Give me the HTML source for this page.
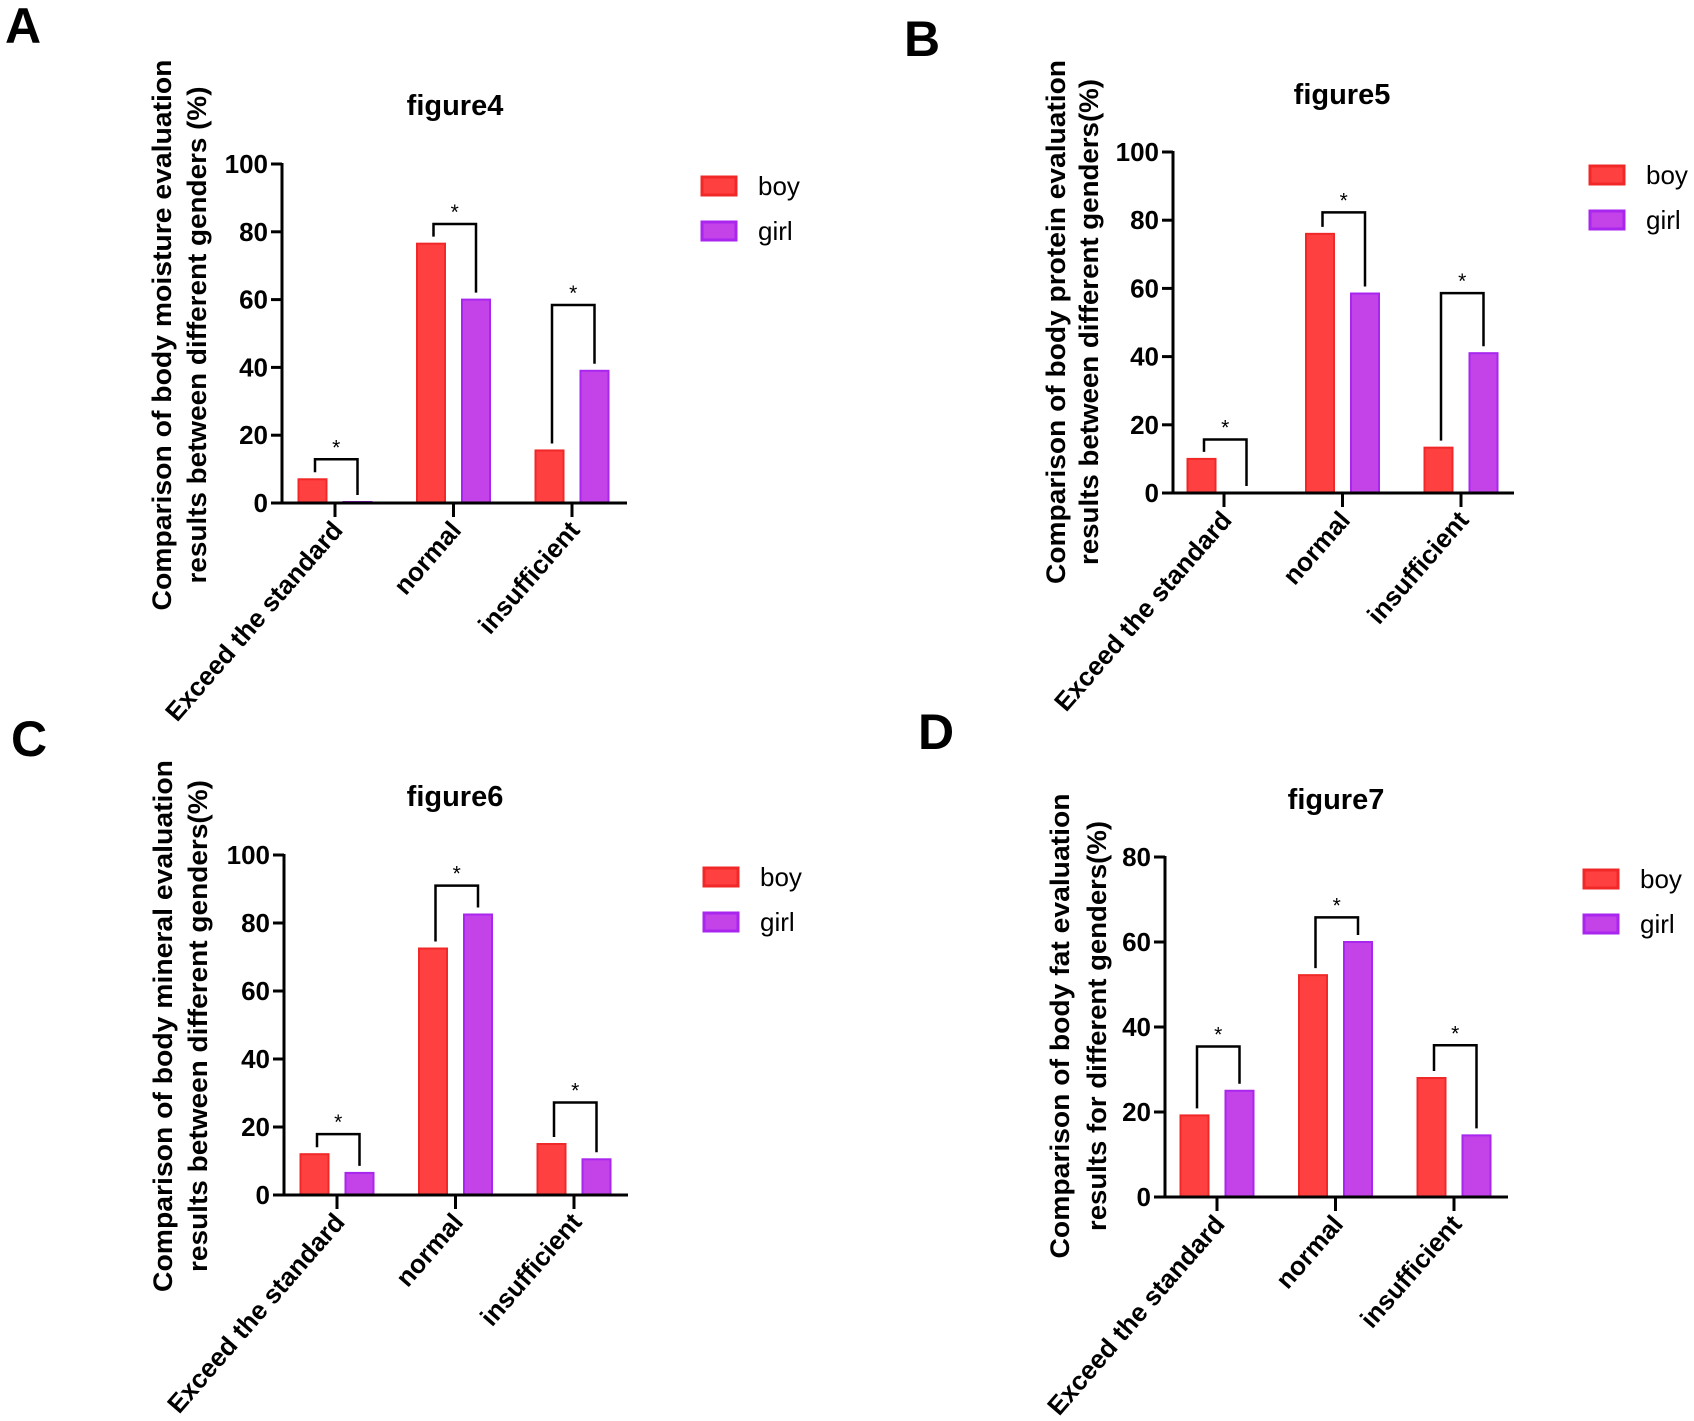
<!DOCTYPE html>
<html><head><meta charset="utf-8"><style>
html,body{margin:0;padding:0;background:#fff;overflow:hidden;}
svg{display:block;font-family:"Liberation Sans",Arial,sans-serif;}
</style></head><body>
<svg id="fig" width="1694" height="1421" viewBox="0 0 1694 1421" xmlns="http://www.w3.org/2000/svg"></svg>
<script>
const categories = ["Exceed the standard","normal","insufficient"];
const seriesNames = ["boy","girl"];
const aBoy = [7, 76.5, 15.5];
const aGirl = [0.3, 60, 39];
const aBracket = [12.9, 82.3, 58.4];
const bBoy = [10, 76, 13.3];
const bGirl = [0, 58.5, 41];
const bBracket = [15.7, 82.3, 58.6];
const cBoy = [12, 72.5, 15];
const cGirl = [6.5, 82.5, 10.5];
const cBracket = [17.9, 91, 27.2];
const dBoy = [19.2, 52.2, 28];
const dGirl = [25, 60, 14.5];
const dBracket = [35.4, 65.8, 35.7];
const ticks100 = [0, 20, 40, 60, 80, 100];
const ticks80 = [0, 20, 40, 60, 80];

const NS = "http://www.w3.org/2000/svg";
const svg = document.getElementById('fig');
function mk(tag, attrs, parent, text){
  const e = document.createElementNS(NS, tag);
  for (const k in attrs) e.setAttribute(k, attrs[k]);
  if (text !== undefined) e.textContent = text;
  (parent || svg).appendChild(e);
  return e;
}
const BOY_FILL="#ff4040", BOY_STROKE="#f02828", GIRL_FILL="#c443e8", GIRL_STROKE="#a826ee";

function panel(p){
  const g = mk('g', {});
  
  
  const maxV = p.ticks[p.ticks.length-1];
  const y = v => p.y0 - (v / maxV) * (p.y0 - p.ytop);
  const xc = i => p.tick0 + i * 118.5;

  const lab = mk('text', {x:p.lx, y:p.ly, 'font-size':50, 'font-weight':'bold', fill:'#000', 'dominant-baseline':'central'}, g, p.letter);
  
  

  const t = mk('text', {x:p.tx, y:p.ty, 'font-size':29, 'font-weight':'bold', 'text-anchor':'middle', 'dominant-baseline':'central'}, g, p.title);
  
  

  const yt = mk('g', {transform:'translate(' + p.ytx + ',' + p.ytc + ') rotate(-90)'}, g);
  
  
  mk('text', {x:0, y:0, 'font-size':27, 'font-weight':'bold', 'text-anchor':'middle', 'dominant-baseline':'central', textLength:p.yl1, lengthAdjust:'spacingAndGlyphs'}, yt, p.ytitle[0]);
  mk('text', {x:0, y:p.ytgap, 'font-size':27, 'font-weight':'bold', 'text-anchor':'middle', 'dominant-baseline':'central', textLength:p.yl2, lengthAdjust:'spacingAndGlyphs'}, yt, p.ytitle[1]);

  for (let i = 0; i < categories.length; i++){
    const vals = [p.boy[i], p.girl[i]];
    for (let s = 0; s < 2; s++){
      const cx = xc(i) + (s === 0 ? -22.5 : 22.5);
      const top = y(vals[s]);
      const r = mk('rect', {x:cx-14, y:top, width:28, height:Math.max(0.5, p.y0-top), fill:s?GIRL_FILL:BOY_FILL, stroke:s?GIRL_STROKE:BOY_STROKE, 'stroke-width':2}, g);
      
      
    }
    const bx1 = xc(i) - 20, bx2 = xc(i) + 22.5;
    const bt = y(p.bracket[i]);
    const lb = y(p.boy[i]) - 7, rb = y(p.girl[i]) - 7;
    const br = mk('path', {d:'M' + bx1 + ' ' + lb + ' V' + bt + ' H' + bx2 + ' V' + rb, fill:'none', stroke:'#000', 'stroke-width':2.5}, g);
    
    
    const st = mk('text', {x:(bx1+bx2)/2, y:bt - 5, 'font-size':21, 'text-anchor':'middle'}, g, '*');
    
    
  }

  const ax = mk('path', {d:'M' + p.ax + ' ' + (p.ytop-1) + ' V' + p.y0 + ' H' + p.xend, fill:'none', stroke:'#000', 'stroke-width':3}, g);
  
  
  p.ticks.forEach(v => {
    const yy = y(v);
    mk('line', {x1:p.ax-11, x2:p.ax, y1:yy, y2:yy, stroke:'#000', 'stroke-width':3}, g);
    const tl = mk('text', {x:p.ax-14, y:yy, 'font-size':26, 'font-weight':'bold', 'text-anchor':'end', 'dominant-baseline':'central'}, g, String(v));
    
    
  });
  categories.forEach((c, i) => {
    mk('line', {x1:xc(i), x2:xc(i), y1:p.y0, y2:p.y0+14, stroke:'#000', 'stroke-width':3}, g);
    const cl = mk('text', {x:0, y:0, 'font-size':26, 'font-weight':'bold', 'text-anchor':'end', transform:'translate(' + (xc(i)+9) + ',' + (p.y0+28) + ') rotate(-49)'}, g, c);
    
    
  });

  seriesNames.forEach((n, s) => {
    const lg = mk('g', {}, g);
    
    
    const cy = p.legY + s * 45;
    mk('rect', {x:p.legX, y:cy-9, width:34, height:18, fill:s?GIRL_FILL:BOY_FILL, stroke:s?GIRL_STROKE:BOY_STROKE, 'stroke-width':3}, lg);
    mk('text', {x:p.legX+56, y:cy, 'font-size':26, 'dominant-baseline':'central'}, lg, n);
  });
}

panel({letter:'A', lx:5, ly:26, title:'figure4', tx:455, ty:106, ax:282, y0:503, ytop:164, xend:627, tick0:335, ticks:ticks100,
  boy:aBoy, girl:aGirl, bracket:aBracket, legX:702, legY:186,
  ytitle:['Comparison of body moisture evaluation','results between different genders (%)'], ytx:162, ytc:335, ytgap:35, yl1:551, yl2:497});
panel({letter:'B', lx:904, ly:39, title:'figure5', tx:1342, ty:95, ax:1173, y0:493, ytop:152, xend:1514, tick0:1224, ticks:ticks100,
  boy:bBoy, girl:bGirl, bracket:bBracket, legX:1590, legY:175,
  ytitle:['Comparison of body protein evaluation','results between different genders(%)'], ytx:1056, ytc:322, ytgap:33, yl1:524, yl2:486});
panel({letter:'C', lx:11, ly:739, title:'figure6', tx:455, ty:797, ax:284, y0:1195, ytop:855, xend:628, tick0:337, ticks:ticks100,
  boy:cBoy, girl:cGirl, bracket:cBracket, legX:704, legY:877,
  ytitle:['Comparison of body mineral evaluation','results between different genders(%)'], ytx:163, ytc:1026, ytgap:35, yl1:532, yl2:492});
panel({letter:'D', lx:918, ly:732, title:'figure7', tx:1336, ty:800, ax:1165, y0:1197, ytop:857, xend:1508, tick0:1217, ticks:ticks80,
  boy:dBoy, girl:dGirl, bracket:dBracket, legX:1584, legY:879,
  ytitle:['Comparison of body fat evaluation','results for different genders(%)'], ytx:1060, ytc:1026, ytgap:37, yl1:465, yl2:410});
</script>
</body></html>
